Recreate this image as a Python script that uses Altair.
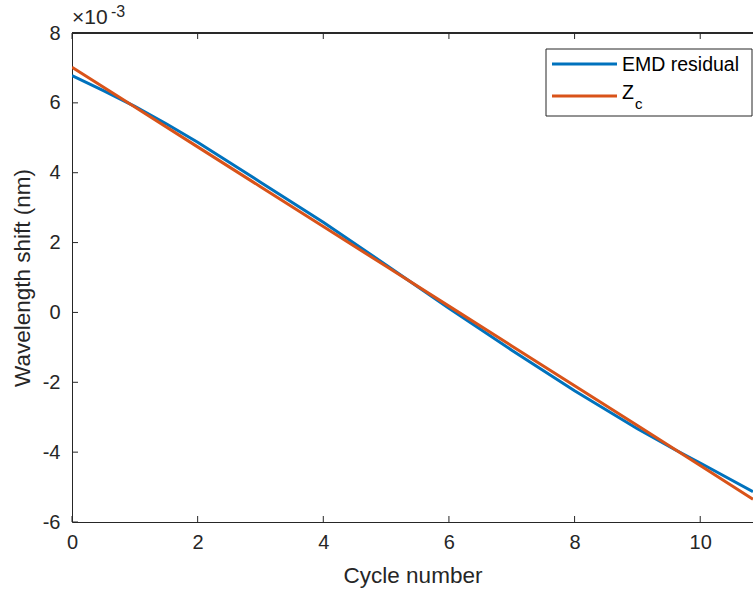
import altair as alt
import pandas as pd

# Cycle positions and wavelength shift (in units of 1e-3 nm)
emd_x = [0, 0.5, 1, 1.5, 2, 3, 4, 5, 6, 7, 8, 9, 9.6, 10, 10.84]
emd_y = [6.78, 6.35, 5.90, 5.40, 4.87, 3.73, 2.58, 1.36, 0.12, -1.08, -2.24, -3.33, -3.93, -4.31, -5.13]

zc_x = [0, 1, 2, 3, 4, 5, 6, 7, 8, 9, 10, 10.84]
zc_y = [7.02, 5.88, 4.74, 3.60, 2.46, 1.32, 0.18, -0.96, -2.10, -3.24, -4.38, -5.35]

x_ticks = [0, 2, 4, 6, 8, 10]
y_ticks = [-6, -4, -2, 0, 2, 4, 6, 8]

series_names = ["EMD residual", "Z_c"]
series_colors = ["#0072BD", "#D95319"]

W, H = 681, 489
X_DOMAIN = [0, 10.84]
Y_DOMAIN = [-6, 8]
FONT = "Liberation Sans"
INK = "#262626"
LABEL_EXPR = "'' + datum.value"

df = pd.concat([
    pd.DataFrame({"x": emd_x, "y": emd_y, "s": series_names[0]}),
    pd.DataFrame({"x": zc_x, "y": zc_y, "s": series_names[1]}),
])

xs = alt.Scale(domain=X_DOMAIN, nice=False, zero=False)
ys = alt.Scale(domain=Y_DOMAIN, nice=False, zero=False)

lines = alt.Chart(df).mark_line(strokeWidth=3, clip=True).encode(
    x=alt.X("x:Q", scale=xs, axis=alt.Axis(
        values=x_ticks, labelExpr=LABEL_EXPR, title="Cycle number", grid=False,
        tickSize=0, labelPadding=10, titlePadding=12, domainColor=INK,
        labelColor=INK, titleColor=INK, labelFontSize=20, titleFontSize=22.5,
        labelFont=FONT, titleFont=FONT, titleFontWeight="normal", labelFlush=False)),
    y=alt.Y("y:Q", scale=ys, axis=alt.Axis(
        values=y_ticks, labelExpr=LABEL_EXPR, title="Wavelength shift (nm)",
        grid=False, tickSize=0, labelPadding=12, titlePadding=8, domainColor=INK,
        labelColor=INK, titleColor=INK, labelFontSize=20, titleFontSize=22.5,
        labelFont=FONT, titleFont=FONT, titleFontWeight="normal", labelFlush=False)),
    color=alt.Color("s:N", scale=alt.Scale(domain=series_names, range=series_colors), legend=None),
    detail="s:N",
)

# inward tick marks on left, bottom and top edges
xt = pd.DataFrame({"v": x_ticks})
yt = pd.DataFrame({"v": y_ticks})
tick_style = dict(color=INK, strokeWidth=1)
bottom_ticks = alt.Chart(xt).mark_rule(**tick_style).encode(
    x=alt.X("v:Q", scale=xs), y=alt.value(H), y2=alt.value(H - 6))
top_ticks = alt.Chart(xt).mark_rule(**tick_style).encode(
    x=alt.X("v:Q", scale=xs), y=alt.value(0), y2=alt.value(6))
left_ticks = alt.Chart(yt).mark_rule(**tick_style).encode(
    y=alt.Y("v:Q", scale=ys), x=alt.value(0), x2=alt.value(6))
top_border = alt.Chart(xt).mark_rule(**tick_style).encode(
    x=alt.value(0), x2=alt.value(W), y=alt.value(0))

# axis exponent label
one = pd.DataFrame({"t": ["×10"]})
exp_base = alt.Chart(one).mark_text(
    align="left", baseline="middle", font=FONT, fontSize=21, color=INK
).encode(x=alt.value(0), y=alt.value(-15), text="t:N")
exp_pow = alt.Chart(pd.DataFrame({"t": ["-3"]})).mark_text(
    align="left", baseline="middle", font=FONT, fontSize=16, color=INK
).encode(x=alt.value(39), y=alt.value(-21), text="t:N")

# legend box
LX0, LX1, LY0, LY1 = 474, 680, 16, 83
legend_box = alt.Chart(one).mark_rect(fill="white", stroke=INK, strokeWidth=1).encode(
    x=alt.value(LX0), x2=alt.value(LX1), y=alt.value(LY0), y2=alt.value(LY1))
legend_lines = [
    alt.Chart(pd.DataFrame({"s": [name]})).mark_rule(strokeWidth=3, color=col).encode(
        x=alt.value(480), x2=alt.value(545), y=alt.value(ypos))
    for name, col, ypos in zip(series_names, series_colors, [31, 63])
]
leg_text1 = alt.Chart(pd.DataFrame({"t": ["EMD residual"]})).mark_text(
    align="left", baseline="middle", font=FONT, fontSize=19.5, color="black"
).encode(x=alt.value(550), y=alt.value(32), text="t:N")
leg_text2 = alt.Chart(pd.DataFrame({"t": ["Z"]})).mark_text(
    align="left", baseline="middle", font=FONT, fontSize=19.5, color="black"
).encode(x=alt.value(550), y=alt.value(60), text="t:N")
leg_text3 = alt.Chart(pd.DataFrame({"t": ["c"]})).mark_text(
    align="left", baseline="middle", font=FONT, fontSize=15, color="black"
).encode(x=alt.value(563), y=alt.value(71), text="t:N")

chart = alt.layer(
    lines, bottom_ticks, top_ticks, left_ticks, top_border,
    exp_base, exp_pow, legend_box, *legend_lines, leg_text1, leg_text2, leg_text3,
).properties(
    width=W, height=H,
    autosize=alt.AutoSizeParams(type="none"),
    padding={"left": 72, "top": 33, "right": 0, "bottom": 74},
    background="white",
).configure_view(strokeWidth=0)

chart.save("out.html", embed_options={"renderer": "svg", "actions": False})
